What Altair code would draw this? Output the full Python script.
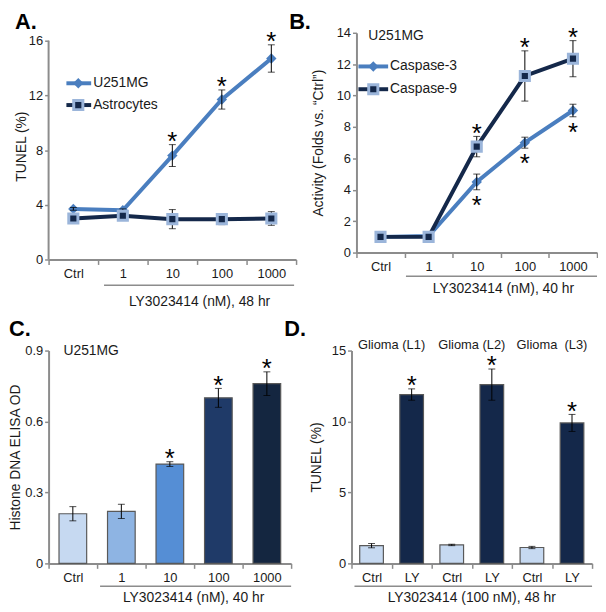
import altair as alt
import pandas as pd

FONT = "Liberation Sans"
GRAY = "#8c8c8c"
TXT = "#1a1a1a"
BLUE = "#4A7EBF"
NAVY = "#14284A"
EDGE = "#9BB5DA"

# ---------------- data ----------------
conc = ["Ctrl", "1", "10", "100", "1000"]

# Panel A: TUNEL (%), 48 hr
a_u251 = [3.7, 3.6, 7.6, 11.7, 14.7]
a_u251_err = [0.1, 0.1, 0.8, 0.7, 1.0]
a_u251_sig = [False, False, True, True, True]
a_astro = [3.0, 3.2, 2.95, 2.95, 3.0]
a_astro_err = [0.1, 0.1, 0.7, 0.4, 0.5]
a_astro_sig = [False, False, False, False, False]

# Panel B: caspase activity (folds vs Ctrl), 40 hr
b_casp3 = [1.0, 1.05, 4.5, 7.0, 9.05]
b_casp3_err = [0.05, 0.05, 0.5, 0.35, 0.4]
b_casp3_sig = [False, False, True, True, True]
b_casp9 = [1.0, 1.0, 6.75, 11.25, 12.35]
b_casp9_err = [0.05, 0.05, 0.65, 1.6, 1.15]
b_casp9_sig = [False, False, True, True, True]

# Panel C: Histone DNA ELISA OD
c_vals = [0.21, 0.22, 0.42, 0.70, 0.76]
c_err = [0.03, 0.03, 0.01, 0.04, 0.05]
c_sig = [False, False, True, True, True]
c_colors = ["#C6D9F1", "#8EB4E3", "#558ED5", "#1F3A68", "#142640"]

# Panel D: TUNEL (%) in primary glioma cells
d_groups = ["Glioma (L1)", "Glioma (L2)", "Glioma\u00a0\u00a0(L3)"]
d_treat = ["Ctrl", "LY"]
d_ctrl = [1.25, 1.3, 1.12]
d_ctrl_err = [0.15, 0.05, 0.08]
d_ly = [11.9, 12.6, 9.9]
d_ly_err = [0.4, 1.1, 0.6]
d_sig = [False, True]
d_colors = ["#C6D9F1", "#14284A"]


def series_df(cats, vals, errs, sig):
    return pd.DataFrame({
        "cat": cats, "value": vals, "err": errs,
        "lo": [v - e for v, e in zip(vals, errs)],
        "hi": [v + e for v, e in zip(vals, errs)],
        "sig": sig,
    })


ONE = pd.DataFrame({"k": [0]})


def make_x(cats, axis, band_pos=None):
    kw = {}
    if band_pos is not None:
        kw["bandPosition"] = band_pos
    return alt.X("cat:N", scale=alt.Scale(type="band", domain=cats, paddingInner=0, paddingOuter=0),
                 axis=axis, **kw)


def make_y(field, dom, axis):
    return alt.Y(f"{field}:Q", scale=alt.Scale(domain=dom, nice=False, zero=True), axis=axis)


def xaxis(title, tx, ty, label_expr=None):
    kw = dict(title=title, titleX=tx, titleY=ty, titleBaseline="middle", titleAlign="center",
              labelAngle=0, tickBand="extent", tickSize=5, labelPadding=3)
    if label_expr:
        kw["labelExpr"] = label_expr
    return alt.Axis(**kw)


def errbars(df, X, Y):
    rule = alt.Chart(df).mark_rule(color="black", strokeWidth=1).encode(x=X, y=Y("lo"), y2="hi")
    cap1 = alt.Chart(df).mark_tick(color="black", size=7, thickness=1).encode(x=X, y=Y("lo"))
    cap2 = alt.Chart(df).mark_tick(color="black", size=7, thickness=1).encode(x=X, y=Y("hi"))
    return [rule, cap1, cap2]


def stars(df, X, Y, above=True):
    return (alt.Chart(df).transform_filter("datum.sig")
            .mark_text(text="*", fontSize=26, font=FONT, color="black", baseline="alphabetic",
                       dy=5.5 if above else 24)
            .encode(x=X, y=Y("hi" if above else "lo")))


def line_series(df, X, Y, kind):
    if kind == "diamond":
        line = alt.Chart(df).mark_line(color=BLUE, strokeWidth=4).encode(x=X, y=Y("value"))
        pts = alt.Chart(df).mark_point(shape="diamond", filled=True, color=BLUE, size=110, opacity=1).encode(
            x=X, y=Y("value"))
    else:
        line = alt.Chart(df).mark_line(color=NAVY, strokeWidth=4).encode(x=X, y=Y("value"))
        pts = alt.Chart(df).mark_point(shape="square", filled=True, fill=NAVY, stroke=EDGE, strokeWidth=3,
                                       size=85, opacity=1).encode(x=X, y=Y("value"))
    return line, pts


def legend_entry(y, x0, x1, xm, xt, label, kind):
    if kind == "diamond":
        ln = alt.Chart(ONE).mark_rule(color=BLUE, strokeWidth=4).encode(
            x=alt.value(x0), x2=alt.value(x1), y=alt.value(y))
        pt = alt.Chart(ONE).mark_point(shape="diamond", filled=True, color=BLUE, size=110, opacity=1).encode(
            x=alt.value(xm), y=alt.value(y))
    else:
        ln = alt.Chart(ONE).mark_rule(color=NAVY, strokeWidth=4).encode(
            x=alt.value(x0), x2=alt.value(x1), y=alt.value(y))
        pt = alt.Chart(ONE).mark_point(shape="square", filled=True, fill=NAVY, stroke=EDGE, strokeWidth=3,
                                       size=85, opacity=1).encode(x=alt.value(xm), y=alt.value(y))
    tx = alt.Chart(ONE).mark_text(text=label, align="left", baseline="middle", fontSize=14, font=FONT,
                                  color=TXT).encode(x=alt.value(xt), y=alt.value(y))
    return [ln, pt, tx]


def underline(x0, x1, y):
    return alt.Chart(ONE).mark_rule(color=GRAY, strokeWidth=1.5).encode(
        x=alt.value(x0), x2=alt.value(x1), y=alt.value(y))


def note(text, x, y):
    return alt.Chart(ONE).mark_text(text=text, align="left", baseline="middle", fontSize=14, font=FONT,
                                    color=TXT).encode(x=alt.value(x), y=alt.value(y))


def letter(ch, x, y):
    return alt.Chart(ONE).mark_text(text=ch, align="left", baseline="top", fontSize=22, fontWeight="bold",
                                    font=FONT, color="black").encode(x=alt.value(x), y=alt.value(y))


# ---------------- Panel A ----------------
A_W, A_H = 250, 229
A_TOP = 16 * 229 / 221
XA = make_x(conc, xaxis("LY3023414 (nM), 48 hr", 152, 42))
yaxA = alt.Axis(title="TUNEL (%)", values=[0, 4, 8, 12, 16], domain=False, titlePadding=0, tickSize=4,
                labelPadding=2)


def YA(f):
    return make_y(f, [0, A_TOP], yaxA)


dfA_u = series_df(conc, a_u251, a_u251_err, a_u251_sig)
dfA_a = series_df(conc, a_astro, a_astro_err, a_astro_sig)
lu, pu = line_series(dfA_u, XA, YA, "diamond")
la, pa = line_series(dfA_a, XA, YA, "square")
axis_rule_A = alt.Chart(ONE).mark_rule(color=GRAY, strokeWidth=2).encode(
    x=alt.value(0), y=alt.datum(0), y2=alt.datum(16))
layersA = [lu, pu] + errbars(dfA_u, XA, YA) + [la] + errbars(dfA_a, XA, YA) + [pa, stars(dfA_u, XA, YA)]
layersA += legend_entry(51, 18, 43, 30, 45, "U251MG", "diamond")
layersA += legend_entry(73, 18, 43, 30, 45, "Astrocytes", "square")
layersA += [underline(56, 248, A_H + 26), axis_rule_A, letter("A.", -34, -21)]
A = alt.layer(*layersA).properties(width=A_W, height=A_H)

# ---------------- Panel B ----------------
B_W, B_H = 243, 222
XB = make_x(conc, xaxis("LY3023414 (nM), 40 hr", 148, 36))
yaxB = alt.Axis(title="Activity (Folds vs. \u201cCtrl\u201d)", values=list(range(0, 15, 2)), titlePadding=11,
                tickSize=4, labelPadding=2)


def YB(f):
    return make_y(f, [0, 14], yaxB)


dfB3 = series_df(conc, b_casp3, b_casp3_err, b_casp3_sig)
dfB9 = series_df(conc, b_casp9, b_casp9_err, b_casp9_sig)
l3, p3 = line_series(dfB3, XB, YB, "diamond")
l9, p9 = line_series(dfB9, XB, YB, "square")
layersB = [l3, p3] + errbars(dfB3, XB, YB) + [l9] + errbars(dfB9, XB, YB) + [p9]
layersB += [stars(dfB3, XB, YB, above=False), stars(dfB9, XB, YB, above=True)]
layersB += [note("U251MG", 12, 3)]
layersB += legend_entry(34, 2, 32, 17, 34, "Caspase-3", "diamond")
layersB += legend_entry(57, 2, 32, 17, 34, "Caspase-9", "square")
layersB += [underline(50, 243, B_H + 24), letter("B.", -68, -21)]
B = alt.layer(*layersB).properties(width=B_W, height=B_H)

# ---------------- Panel C ----------------
C_W, C_H = 245, 215
XC = make_x(conc, xaxis("LY3023414 (nM), 40 hr", 146, 34))
yaxC = alt.Axis(title="Histone DNA ELISA OD", values=[0, 0.3, 0.6, 0.9], titlePadding=2, tickSize=4,
                labelPadding=2, labelExpr="datum.value == 0 ? '0' : format(datum.value, '.1f')")


def YC(f):
    return make_y(f, [0, 0.9], yaxC)


dfC = series_df(conc, c_vals, c_err, c_sig)
barsC = alt.Chart(dfC).mark_bar(width={"band": 0.57}, stroke="#595959", strokeWidth=1.2).encode(
    x=XC, y=YC("value"),
    color=alt.Color("cat:N", scale=alt.Scale(domain=conc, range=c_colors), legend=None))
layersC = [barsC] + errbars(dfC, XC, YC) + [stars(dfC, XC, YC), note("U251MG", 15, 0),
                                            underline(52, 245, C_H + 23), letter("C.", -40, -32)]
C = alt.layer(*layersC).properties(width=C_W, height=C_H)

# ---------------- Panel D ----------------
D_W, D_H = 243, 215
d_keys, d_vals, d_errs, d_tr, d_sg = [], [], [], [], []
for i in range(len(d_groups)):
    for t, v, e, s in zip(d_treat, [d_ctrl[i], d_ly[i]], [d_ctrl_err[i], d_ly_err[i]], d_sig):
        d_keys.append(f"{i}|{t}")
        d_vals.append(v)
        d_errs.append(e)
        d_tr.append(t)
        d_sg.append(s)
dfD = series_df(d_keys, d_vals, d_errs, d_sg)
dfD["treat"] = d_tr
axD = xaxis("LY3023414 (100 nM), 48 hr", 121, 34, "split(datum.value, '|')[1]")
XD = make_x(d_keys, axD)
yaxD = alt.Axis(title="TUNEL (%)", values=[0, 5, 10, 15], titlePadding=8, tickSize=4, labelPadding=2)


def YD(f):
    return make_y(f, [0, 15], yaxD)


barsD = alt.Chart(dfD).mark_bar(width={"band": 0.59}, stroke="#595959", strokeWidth=1.2).encode(
    x=XD, y=YD("value"),
    color=alt.Color("treat:N", scale=alt.Scale(domain=d_treat, range=d_colors), legend=None))
dfG = pd.DataFrame({"cat": [f"{i}|LY" for i in range(len(d_groups))], "label": d_groups,
                    "top": [15] * len(d_groups)})
glioma = alt.Chart(dfG).mark_text(fontSize=13, font=FONT, color=TXT, baseline="middle", dy=-6).encode(
    x=make_x(d_keys, axD, band_pos=0), y=YD("top"), text="label:N")
layersD = [barsD] + errbars(dfD, XD, YD) + [stars(dfD, XD, YD), glioma, underline(3, 243, D_H + 23),
                                            letter("D.", -68, -32)]
D = alt.layer(*layersD).properties(width=D_W, height=D_H)

row1 = alt.hconcat(A, B, spacing=-8).resolve_scale(color="independent")
row2 = alt.hconcat(C, D, spacing=-8).resolve_scale(color="independent")
chart = (alt.vconcat(row1, row2, spacing=10)
         .resolve_scale(color="independent")
         .properties(padding=0)
         .configure_view(stroke=None)
         .configure_axis(domainColor=GRAY, domainWidth=2, tickColor=GRAY, tickWidth=1.5, grid=False,
                         labelFont=FONT, labelFontSize=13, labelColor=TXT,
                         titleFont=FONT, titleFontSize=14, titleFontWeight="normal", titleColor=TXT)
         .configure_text(font=FONT))

chart.save("out.html", embed_options={"renderer": "svg", "actions": False})
